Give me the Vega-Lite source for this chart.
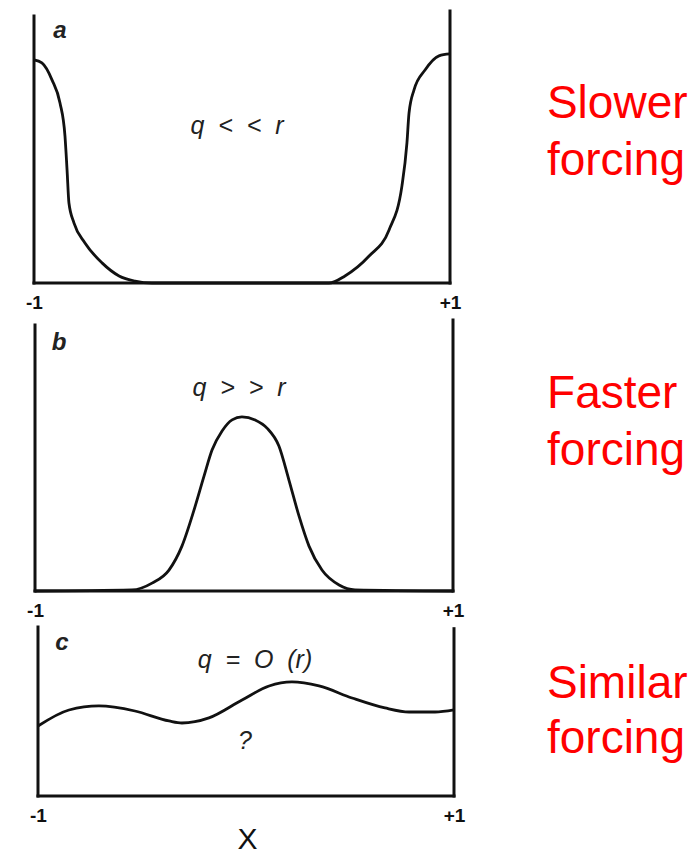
{
  "$schema": "https://vega.github.io/schema/vega-lite/v6.json",
  "padding": {"left": 25, "top": 8, "right": 0, "bottom": 0},
  "background": "white",
  "bounds": "flush",
  "spacing": 36,
  "config": {
    "view": {"stroke": null},
    "axis": {"grid": false, "domain": false, "ticks": false, "labelFont": "Liberation Sans", "labelFontWeight": "bold", "labelFontSize": 19, "labelColor": "#111", "labelPadding": 10}
  },
  "datasets": {
    "frameA": [{"x": -1, "y": 0, "x2": -1, "y2": 0.982}, {"x": 1, "y": 0, "x2": 1, "y2": 1.0}, {"x": -1, "y": 0, "x2": 1, "y2": 0}],
    "frameB": [{"x": -1, "y": 0, "x2": -1, "y2": 0.978}, {"x": 1, "y": 0, "x2": 1, "y2": 0.996}, {"x": -1, "y": 0, "x2": 1, "y2": 0}],
    "frameC": [{"x": -1, "y": 0, "x2": -1, "y2": 1.0}, {"x": 1, "y": 0, "x2": 1, "y2": 0.99}, {"x": -1, "y": 0, "x2": 1, "y2": 0}],
    "curveA": [
      {"x": -1.0, "y": 0.82}, {"x": -0.962, "y": 0.809}, {"x": -0.913, "y": 0.746}, {"x": -0.875, "y": 0.662},
      {"x": -0.851, "y": 0.54}, {"x": -0.841, "y": 0.415}, {"x": -0.832, "y": 0.294}, {"x": -0.808, "y": 0.221},
      {"x": -0.755, "y": 0.147}, {"x": -0.673, "y": 0.074}, {"x": -0.591, "y": 0.026}, {"x": -0.514, "y": 0.007},
      {"x": -0.433, "y": 0.0}, {"x": 0.418, "y": 0.0}, {"x": 0.495, "y": 0.026}, {"x": 0.611, "y": 0.099},
      {"x": 0.707, "y": 0.195}, {"x": 0.769, "y": 0.357}, {"x": 0.793, "y": 0.515}, {"x": 0.803, "y": 0.625},
      {"x": 0.827, "y": 0.71}, {"x": 0.88, "y": 0.783}, {"x": 0.947, "y": 0.835}, {"x": 1.0, "y": 0.842}
    ],
    "curveB": [
      {"x": -1.0, "y": 0.0}, {"x": -0.536, "y": 0.004}, {"x": -0.44, "y": 0.029}, {"x": -0.359, "y": 0.077},
      {"x": -0.297, "y": 0.165}, {"x": -0.239, "y": 0.298}, {"x": -0.191, "y": 0.423}, {"x": -0.153, "y": 0.518},
      {"x": -0.105, "y": 0.588}, {"x": -0.057, "y": 0.629}, {"x": -0.01, "y": 0.64}, {"x": 0.053, "y": 0.629},
      {"x": 0.11, "y": 0.599}, {"x": 0.167, "y": 0.533}, {"x": 0.215, "y": 0.408}, {"x": 0.263, "y": 0.276},
      {"x": 0.311, "y": 0.165}, {"x": 0.373, "y": 0.077}, {"x": 0.455, "y": 0.022}, {"x": 0.531, "y": 0.004},
      {"x": 1.0, "y": 0.0}
    ],
    "curveC": [
      {"x": -1.0, "y": 0.414}, {"x": -0.851, "y": 0.509}, {"x": -0.707, "y": 0.533}, {"x": -0.534, "y": 0.503},
      {"x": -0.37, "y": 0.444}, {"x": -0.308, "y": 0.432}, {"x": -0.178, "y": 0.462}, {"x": -0.019, "y": 0.568},
      {"x": 0.111, "y": 0.651}, {"x": 0.221, "y": 0.675}, {"x": 0.351, "y": 0.651}, {"x": 0.51, "y": 0.58},
      {"x": 0.668, "y": 0.521}, {"x": 0.784, "y": 0.497}, {"x": 0.909, "y": 0.497}, {"x": 1.0, "y": 0.509}
    ],
    "letterA": [{"x": -0.875, "y": 0.926, "label": "a"}],
    "letterB": [{"x": -0.885, "y": 0.912, "label": "b"}],
    "letterC": [{"x": -0.885, "y": 0.905, "label": "c"}],
    "relA": [{"x": -0.024, "y": 0.577, "label": "q\u00a0\u00a0<\u00a0\u00a0<\u00a0\u00a0r"}],
    "relB": [{"x": -0.024, "y": 0.746, "label": "q\u00a0\u00a0>\u00a0\u00a0>\u00a0\u00a0r"}],
    "relC": [{"x": 0.043, "y": 0.805, "label": "q\u00a0\u00a0=\u00a0\u00a0O\u00a0\u00a0(r)"}, {"x": -0.005, "y": 0.325, "label": "?"}],
    "txtA": [{"x": 1.466, "y": 0.607, "label": "Slower"}, {"x": 1.466, "y": 0.397, "label": "forcing"}],
    "txtB": [{"x": 1.45, "y": 0.673, "label": "Faster"}, {"x": 1.45, "y": 0.463, "label": "forcing"}],
    "txtC": [{"x": 1.447, "y": 0.58, "label": "Similar"}, {"x": 1.447, "y": 0.254, "label": "forcing"}]
  },
  "vconcat": [
    {
      "width": 668, "height": 272,
      "layer": [
        {
          "data": {"name": "frameA"},
          "mark": {"type": "rule", "color": "#111", "strokeWidth": 3, "strokeCap": "square"},
          "encoding": {
            "x": {"field": "x", "type": "quantitative", "scale": {"domain": [-1.0096, 2.2019], "nice": false, "zero": false}, "axis": {"values": [-1, 1], "labelExpr": "datum.value > 0 ? '+1' : '-1'", "title": null, "labelFontSize": 19}},
            "y": {"field": "y", "type": "quantitative", "scale": {"domain": [0, 1], "nice": false, "zero": false}, "axis": null},
            "x2": {"field": "x2"}, "y2": {"field": "y2"}
          }
        },
        {
          "data": {"name": "curveA"},
          "mark": {"type": "line", "color": "#111", "strokeWidth": 2.8, "interpolate": "monotone"},
          "encoding": {"x": {"field": "x", "type": "quantitative"}, "y": {"field": "y", "type": "quantitative"}}
        },
        {
          "data": {"name": "letterA"},
          "mark": {"type": "text", "font": "Liberation Sans", "fontStyle": "italic", "fontWeight": "bold", "fontSize": 24, "color": "#222", "align": "center", "baseline": "middle"},
          "encoding": {"x": {"field": "x", "type": "quantitative"}, "y": {"field": "y", "type": "quantitative"}, "text": {"field": "label"}}
        },
        {
          "data": {"name": "relA"},
          "mark": {"type": "text", "font": "Liberation Sans", "fontStyle": "italic", "fontSize": 25, "color": "#222", "align": "center", "baseline": "middle"},
          "encoding": {"x": {"field": "x", "type": "quantitative"}, "y": {"field": "y", "type": "quantitative"}, "text": {"field": "label"}}
        },
        {
          "data": {"name": "txtA"},
          "mark": {"type": "text", "font": "Liberation Sans", "fontSize": 46, "color": "#ff0000", "align": "left", "baseline": "alphabetic"},
          "encoding": {"x": {"field": "x", "type": "quantitative"}, "y": {"field": "y", "type": "quantitative"}, "text": {"field": "label"}}
        }
      ]
    },
    {
      "width": 668, "height": 272,
      "layer": [
        {
          "data": {"name": "frameB"},
          "mark": {"type": "rule", "color": "#111", "strokeWidth": 3, "strokeCap": "square"},
          "encoding": {
            "x": {"field": "x", "type": "quantitative", "scale": {"domain": [-1.0144, 2.1818], "nice": false, "zero": false}, "axis": {"values": [-1, 1], "labelExpr": "datum.value > 0 ? '+1' : '-1'", "title": null, "labelFontSize": 19}},
            "y": {"field": "y", "type": "quantitative", "scale": {"domain": [0, 1], "nice": false, "zero": false}, "axis": null},
            "x2": {"field": "x2"}, "y2": {"field": "y2"}
          }
        },
        {
          "data": {"name": "curveB"},
          "mark": {"type": "line", "color": "#111", "strokeWidth": 2.8, "interpolate": "monotone"},
          "encoding": {"x": {"field": "x", "type": "quantitative"}, "y": {"field": "y", "type": "quantitative"}}
        },
        {
          "data": {"name": "letterB"},
          "mark": {"type": "text", "font": "Liberation Sans", "fontStyle": "italic", "fontWeight": "bold", "fontSize": 24, "color": "#222", "align": "center", "baseline": "middle"},
          "encoding": {"x": {"field": "x", "type": "quantitative"}, "y": {"field": "y", "type": "quantitative"}, "text": {"field": "label"}}
        },
        {
          "data": {"name": "relB"},
          "mark": {"type": "text", "font": "Liberation Sans", "fontStyle": "italic", "fontSize": 25, "color": "#222", "align": "center", "baseline": "middle"},
          "encoding": {"x": {"field": "x", "type": "quantitative"}, "y": {"field": "y", "type": "quantitative"}, "text": {"field": "label"}}
        },
        {
          "data": {"name": "txtB"},
          "mark": {"type": "text", "font": "Liberation Sans", "fontSize": 46, "color": "#ff0000", "align": "left", "baseline": "alphabetic"},
          "encoding": {"x": {"field": "x", "type": "quantitative"}, "y": {"field": "y", "type": "quantitative"}, "text": {"field": "label"}}
        }
      ]
    },
    {
      "width": 668, "height": 169,
      "layer": [
        {
          "data": {"name": "frameC"},
          "mark": {"type": "rule", "color": "#111", "strokeWidth": 3, "strokeCap": "square"},
          "encoding": {
            "x": {"field": "x", "type": "quantitative", "scale": {"domain": [-1.0288, 2.1827], "nice": false, "zero": false}, "axis": {"values": [-1, 1], "labelExpr": "datum.value > 0 ? '+1' : '-1'", "labelFontSize": 19, "title": "X", "titleFont": "Liberation Sans", "titleFontSize": 30, "titleFontWeight": "normal", "titleColor": "#111", "titleX": 215, "titleY": 52, "titleAlign": "center", "titleBaseline": "alphabetic"}},
            "y": {"field": "y", "type": "quantitative", "scale": {"domain": [0, 1], "nice": false, "zero": false}, "axis": null},
            "x2": {"field": "x2"}, "y2": {"field": "y2"}
          }
        },
        {
          "data": {"name": "curveC"},
          "mark": {"type": "line", "color": "#111", "strokeWidth": 2.8, "interpolate": "monotone"},
          "encoding": {"x": {"field": "x", "type": "quantitative"}, "y": {"field": "y", "type": "quantitative"}}
        },
        {
          "data": {"name": "letterC"},
          "mark": {"type": "text", "font": "Liberation Sans", "fontStyle": "italic", "fontWeight": "bold", "fontSize": 24, "color": "#222", "align": "center", "baseline": "middle"},
          "encoding": {"x": {"field": "x", "type": "quantitative"}, "y": {"field": "y", "type": "quantitative"}, "text": {"field": "label"}}
        },
        {
          "data": {"name": "relC"},
          "mark": {"type": "text", "font": "Liberation Sans", "fontStyle": "italic", "fontSize": 25, "color": "#222", "align": "center", "baseline": "middle"},
          "encoding": {"x": {"field": "x", "type": "quantitative"}, "y": {"field": "y", "type": "quantitative"}, "text": {"field": "label"}}
        },
        {
          "data": {"name": "txtC"},
          "mark": {"type": "text", "font": "Liberation Sans", "fontSize": 46, "color": "#ff0000", "align": "left", "baseline": "alphabetic"},
          "encoding": {"x": {"field": "x", "type": "quantitative"}, "y": {"field": "y", "type": "quantitative"}, "text": {"field": "label"}}
        }
      ]
    }
  ]
}
